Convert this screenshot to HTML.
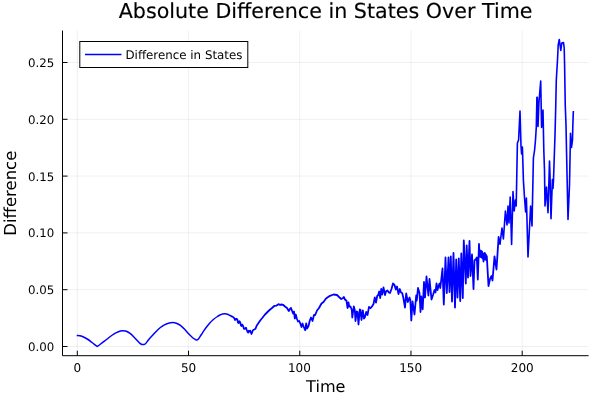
<!DOCTYPE html>
<html lang="en">
<head>
<meta charset="utf-8">
<title>Absolute Difference in States Over Time</title>
<style>
html,body{margin:0;padding:0;background:#fff;}
body{width:600px;height:400px;overflow:hidden;}
svg{display:block;}
text{text-rendering:geometricPrecision;font-family:"DejaVu Sans","Liberation Sans",sans-serif;fill:#000;}
</style>
</head>
<body>
<svg width="600" height="400" viewBox="0 0 600 400">
<rect x="0" y="0" width="600" height="400" fill="#ffffff"/>
<g stroke="#000" stroke-opacity="0.1" stroke-width="0.6" fill="none">
<line x1="77.30" y1="30.5" x2="77.30" y2="355.7"/>
<line x1="188.52" y1="30.5" x2="188.52" y2="355.7"/>
<line x1="299.75" y1="30.5" x2="299.75" y2="355.7"/>
<line x1="410.98" y1="30.5" x2="410.98" y2="355.7"/>
<line x1="522.20" y1="30.5" x2="522.20" y2="355.7"/>
<line x1="62.5" y1="346.50" x2="588.6" y2="346.50"/>
<line x1="62.5" y1="289.70" x2="588.6" y2="289.70"/>
<line x1="62.5" y1="232.90" x2="588.6" y2="232.90"/>
<line x1="62.5" y1="176.10" x2="588.6" y2="176.10"/>
<line x1="62.5" y1="119.30" x2="588.6" y2="119.30"/>
<line x1="62.5" y1="62.50" x2="588.6" y2="62.50"/>
</g>
<g stroke="#000" stroke-width="1" fill="none">
<line x1="62.5" y1="355.7" x2="588.6" y2="355.7"/>
<line x1="62.5" y1="30.5" x2="62.5" y2="355.7"/>
<line x1="77.30" y1="355.7" x2="77.30" y2="350.7"/>
<line x1="188.52" y1="355.7" x2="188.52" y2="350.7"/>
<line x1="299.75" y1="355.7" x2="299.75" y2="350.7"/>
<line x1="410.98" y1="355.7" x2="410.98" y2="350.7"/>
<line x1="522.20" y1="355.7" x2="522.20" y2="350.7"/>
<line x1="62.5" y1="346.50" x2="67.5" y2="346.50"/>
<line x1="62.5" y1="289.70" x2="67.5" y2="289.70"/>
<line x1="62.5" y1="232.90" x2="67.5" y2="232.90"/>
<line x1="62.5" y1="176.10" x2="67.5" y2="176.10"/>
<line x1="62.5" y1="119.30" x2="67.5" y2="119.30"/>
<line x1="62.5" y1="62.50" x2="67.5" y2="62.50"/>
</g>
<g font-size="11.8">
<text x="77.30" y="371.5" font-size="12" text-anchor="middle">0</text>
<text x="188.52" y="371.5" font-size="12" text-anchor="middle">50</text>
<text x="299.35" y="371.5" font-size="12" text-anchor="middle">100</text>
<text x="410.58" y="371.5" font-size="12" text-anchor="middle">150</text>
<text x="522.30" y="371.5" font-size="12" text-anchor="middle">200</text>
<text x="54.3" y="351" text-anchor="end">0.00</text>
<text x="54.3" y="294" text-anchor="end">0.05</text>
<text x="54.3" y="237" text-anchor="end">0.10</text>
<text x="54.3" y="181" text-anchor="end">0.15</text>
<text x="54.3" y="124" text-anchor="end">0.20</text>
<text x="54.3" y="67" text-anchor="end">0.25</text>
</g>
<text x="325.6" y="18.2" font-size="20.65" text-anchor="middle" stroke="#000" stroke-width="0.15">Absolute Difference in States Over Time</text>
<text x="325.8" y="392" font-size="16.1" text-anchor="middle">Time</text>
<text transform="translate(15.6,193.2) rotate(-90)" font-size="16.5" text-anchor="middle">Difference</text>
<g fill="none" stroke="#0000ff" stroke-linejoin="round" stroke-linecap="round">
<path stroke-width="1.5" stroke-linecap="butt" d="M76.70,335.40C77.25,335.45 78.78,335.40 80.00,335.70C81.22,336.00 82.67,336.57 84.00,337.20C85.33,337.83 86.67,338.62 88.00,339.50C89.33,340.38 90.83,341.62 92.00,342.50C93.17,343.38 94.13,344.13 95.00,344.80C95.87,345.47 96.83,346.22 97.20,346.50C97.67,346.17 98.80,345.38 100.00,344.50C101.20,343.62 103.00,342.28 104.40,341.20C105.80,340.12 107.07,339.03 108.40,338.00C109.73,336.97 111.07,335.90 112.40,335.00C113.73,334.10 115.07,333.27 116.40,332.60C117.73,331.93 119.32,331.32 120.40,331.00C121.48,330.68 121.90,330.65 122.90,330.70C123.90,330.75 125.15,330.80 126.40,331.30C127.65,331.80 129.07,332.67 130.40,333.70C131.73,334.73 133.07,336.15 134.40,337.50C135.73,338.85 137.32,340.72 138.40,341.80C139.48,342.88 140.07,343.53 140.90,344.00C141.73,344.47 142.65,344.63 143.40,344.60C144.15,344.57 144.57,344.57 145.40,343.80C146.23,343.03 147.23,341.38 148.40,340.00C149.57,338.62 151.07,336.97 152.40,335.50C153.73,334.03 155.07,332.53 156.40,331.20C157.73,329.87 159.07,328.57 160.40,327.50C161.73,326.43 163.07,325.52 164.40,324.80C165.73,324.08 166.98,323.58 168.40,323.20C169.82,322.82 171.57,322.50 172.90,322.50C174.23,322.50 175.15,322.73 176.40,323.20C177.65,323.67 179.07,324.33 180.40,325.30C181.73,326.27 183.07,327.63 184.40,329.00C185.73,330.37 187.07,332.08 188.40,333.50C189.73,334.92 191.23,336.50 192.40,337.50C193.57,338.50 194.65,339.08 195.40,339.50C196.15,339.92 196.40,340.08 196.90,340.00C197.40,339.92 197.65,339.92 198.40,339.00C199.15,338.08 200.23,336.25 201.40,334.50C202.57,332.75 204.07,330.33 205.40,328.50C206.73,326.67 208.07,325.00 209.40,323.50C210.73,322.00 212.07,320.67 213.40,319.50C214.73,318.33 216.30,317.25 217.40,316.50C218.50,315.75 219.15,315.42 220.00,315.00C220.85,314.58 221.67,314.21 222.50,314.00C223.33,313.79 224.17,313.71 225.00,313.75C225.83,313.79 226.67,313.96 227.50,314.25C228.33,314.54 229.25,315.12 230.00,315.50C230.75,315.88 231.67,316.33 232.00,316.50"/>
<path stroke-width="1.8" d="M232,316.5L233.5,317.25L234.5,318.75L235,320L236.25,318.75L237.25,319.25L238,322.5L238.6,323L239.5,321.25L240.25,322.5L241,325.5L241.6,326L242.3,324.6L243.1,326L243.9,328.75L244.75,328.75L246,327.75L246.75,330L247.5,331.75L248.25,332.5L248.9,330.75L249.5,331.5L250.25,330.75L250.9,332.5L251.5,334L252.25,332L253.1,330L254.25,329.5L255.5,328.75L256.75,325.5L258,323.75L259.5,321.5L261,319.5L262.25,318L265,314.5L269,310.5L272,308L274.5,305.8L276.5,305.6L278.5,304.2L280,304.8L281.5,304.5L283,304.8L285,306.5L287,308L288.8,311L290,309L291,308L292.5,312L293.2,313.5L294,311.5L294.8,318.5L295.8,314.5L296.8,318.5L298,321.5L299.2,321L300.5,324L301.5,327L302.5,323.5L303.8,327L305.2,330.2L306.2,323.5L307,328.5L308.5,326L309.8,320.5L311,317.5L312.5,321L314,315L315.2,315L317,310.5L319,308L321.5,303.5L323.5,302L326,298.5L328.5,296.8L330,295.8L333.5,294.5L337,295L339,297L341.2,299L342.8,298.2L343.8,297L345,299.5L346.5,300.8L347.5,308L348.5,302.5L349.2,306.5L350.5,306.5L351.8,310L352.3,317.5L353.8,306.5L354.8,310L355.5,321L356.7,311.5L357.5,312L358.5,324.5L359.8,309.5L360.5,310L361.5,320L362.8,310.5L364,318.5L365,317L366.2,312L367.5,315L369,306.8L370.5,308.2L372,306.5L373.5,304L374.8,297.5L376,302.5L377.2,296L378.2,295L379.2,291.5L380.2,298L381.2,289L382.2,294.5L383.5,287.5L385,295L386.2,291L387.5,290.5L388.8,292.5L390,293L391.5,289L393,283.5L394.5,285L395.8,289.5L397,286.5L398.5,294L399.8,289L401,292.5L402.2,293L403.5,298.5L405,307.5L406.2,293.5L407.8,302L409.5,297.5L410.3,300L411.3,320.5L412.5,301.5L414.5,314.5L416.2,295.5L416.8,300.5L418,288L419.5,293L420.5,312L421.3,296.5L422.7,309.3L424,282L425,297.5L426.5,276.5L428.4,295.5L429.5,279L431.5,299.5L433,295L434.5,290L435.5,292.5L436.5,283.5L437.5,290L438.5,286L439.5,283.5L440.3,288L442.5,268.5L443.8,304.5L445.5,257.5L446.8,293L448.5,257.5L449.5,292L450.8,256.5L452,301.5L453.5,253L455,307.5L456.2,259.5L457.5,297.5L458.8,258.5L460.2,301L461.3,253.5L462.8,298L463.8,240.5L465.8,283.5L466.7,245.5L468,277.5L469.5,241L470.5,276L472,254.5L473.5,289L474.5,260.5L476,259L476.8,257.5L477.8,279.5L479,244L479.6,256.5L480.1,250.3L480.6,257L481.1,250.8L481.6,257.5L482.1,251.6L482.6,258.5L483.1,253.5L483.5,261.5L483.9,255.5L484.4,259.5L484.8,253L485.3,259.5L485.8,254.3L486.3,260L486.8,256.2L488.5,286L490,279L491.5,276L492.5,280.5L494.5,256.5L496.5,269.5L498.6,237L500,244"/>
<path stroke-width="1.6" stroke-linecap="butt" d="M500,244L502,228L503.4,239L505.4,211L507,225L508,206L509,223L510.2,197L511.6,244.4L513,191.6L514.2,211L515.4,200L516.2,206L517.4,143L518.6,140L520,111L521,146L521.6,154L522.4,147L523.4,180L524.6,199L525.6,212L526.4,198L528,257L530.6,206L532,226L533.4,158L534.6,150L535.5,140L536.3,127L536.9,97.2L537.3,97.5L538,126.5L538.9,103L540.7,81L541.6,127.5L543,110L543.8,150L544.5,170L545,206L546.5,187L548,212.8L549.5,161L550,175L551,218.8L552.4,179.5L553,188.5L553.5,180L554.5,150L555,135L555.6,112L556.3,80L557.5,60L558.2,45L559.3,39.5L560.8,50.5L561.8,43L563.5,42.5L564.2,48L564.6,65L565.25,105L566,125L566.5,150L568,219.5L569.5,185L570.5,133.2L571.5,147.5L572.5,140L572.85,125L573.35,111"/>
</g>
<rect x="79.8" y="41.5" width="168" height="26" fill="#ffffff" stroke="#000" stroke-width="1"/>
<line x1="85" y1="54.5" x2="121.5" y2="54.5" stroke="#0000ff" stroke-width="1.5"/>
<text x="125.5" y="58.9" font-size="11.85">Difference in States</text>
</svg>
</body>
</html>
